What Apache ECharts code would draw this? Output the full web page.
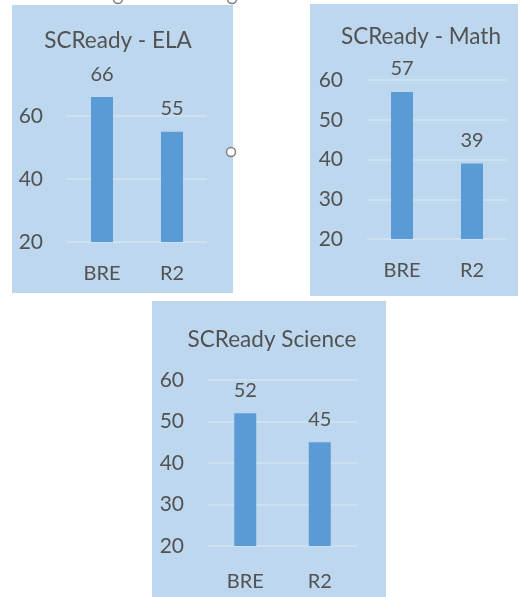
<!DOCTYPE html>
<html>
<head>
<meta charset="utf-8">
<script src="https://cdn.jsdelivr.net/npm/echarts@6/dist/echarts.min.js"></script>
<style>
html,body{margin:0;padding:0;background:#fff;}
#c{width:520px;height:597px;}
</style>
</head>
<body>
<div id="c"></div>
<script>
const categories = ['BRE', 'R2'];
const titles = ['SCReady - ELA', 'SCReady - Math', 'SCReady Science'];
const elaValues = [66, 55];
const mathValues = [57, 39];
const scienceValues = [52, 45];
const elaTicks = { min: 20, max: 70, interval: 20 };
const mathTicks = { min: 20, max: 60, interval: 10 };
const scienceTicks = { min: 20, max: 60, interval: 10 };

const FONT = 'Lato';
const TXT = '#525252';
const BG = '#BDD7EE';
const BAR = '#5B9BD5';
const GRIDC = '#D3E3F3';

const panels = [
  { rect: { x: 12, y: 5, width: 221, height: 288 }, grid: { left: 67, right: 313, top: 84.5, bottom: 355 }, title: { left: 113, top: 24 }, values: elaValues, ticks: elaTicks, labelMargin: 22 },
  { rect: { x: 310, y: 4, width: 208, height: 292 }, grid: { left: 367, right: 13, top: 80, bottom: 358 }, title: { left: 416, top: 20 }, values: mathValues, ticks: mathTicks, labelMargin: 22 },
  { rect: { x: 152, y: 301, width: 234, height: 296 }, grid: { left: 208, right: 163, top: 380, bottom: 51 }, title: { left: 267, top: 323 }, values: scienceValues, ticks: scienceTicks, labelMargin: 26 }
];

const chart = echarts.init(document.getElementById('c'), null, { renderer: 'canvas' });

const option = {
  backgroundColor: '#ffffff',
  animation: false,
  textStyle: { fontFamily: FONT },
  graphic: panels.map(p => ({
    type: 'rect', shape: p.rect, style: { fill: BG }, z: -10, silent: true
  })).concat([
    { type: 'circle', shape: { cx: 231, cy: 152, r: 4.5 }, style: { fill: '#fff', stroke: '#7f7f7f', lineWidth: 1.5 }, z: 10 },
    { type: 'circle', shape: { cx: 118, cy: -1, r: 4.5 }, style: { fill: '#fff', stroke: '#7f7f7f', lineWidth: 1.5 }, z: 10 },
    { type: 'circle', shape: { cx: 232, cy: -1, r: 4.5 }, style: { fill: '#fff', stroke: '#7f7f7f', lineWidth: 1.5 }, z: 10 }
  ]),
  title: panels.map((p, i) => ({
    text: titles[i],
    left: p.title.left,
    top: p.title.top,
    textAlign: 'center',
    textStyle: { fontFamily: FONT, fontSize: 22.5, fontWeight: 'normal', color: TXT }
  })),
  grid: panels.map(p => Object.assign({ containLabel: false }, p.grid)),
  xAxis: panels.map((p, i) => ({
    type: 'category',
    gridIndex: i,
    data: categories,
    axisLine: { show: false },
    axisTick: { show: false },
    axisLabel: { fontFamily: FONT, fontSize: 20, color: TXT, margin: p.labelMargin }
  })),
  yAxis: panels.map((p, i) => ({
    type: 'value',
    gridIndex: i,
    min: p.ticks.min,
    max: p.ticks.max,
    interval: p.ticks.interval,
    axisLine: { show: false },
    axisTick: { show: false },
    axisLabel: { fontFamily: FONT, fontSize: 21, color: TXT, margin: 24, showMaxLabel: i !== 0 },
    splitLine: { show: true, showMaxLine: i !== 0, lineStyle: { color: GRIDC, width: 1.5 } }
  })),
  series: panels.map((p, i) => ({
    type: 'bar',
    xAxisIndex: i,
    yAxisIndex: i,
    data: p.values,
    barWidth: 22,
    itemStyle: { color: BAR },
    label: { show: true, position: 'top', distance: 13, fontFamily: FONT, fontSize: 20, color: TXT }
  }))
};
chart.setOption(option);
</script>
</body>
</html>
